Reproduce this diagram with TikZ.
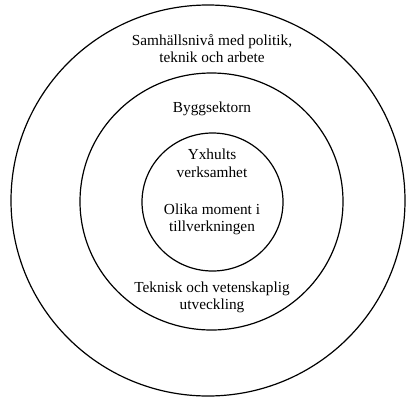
\documentclass[tikz,border=0pt]{standalone}
\usepackage{fontspec}
\setmainfont{Liberation Serif}
\begin{document}
\begin{tikzpicture}[x=1pt,y=-1pt,
  ring/.style={line width=1.2pt},
  lbl/.style={align=center,font=\fontsize{15.3}{17.5}\selectfont,inner sep=0pt}]
\useasboundingbox (0,0) rectangle (406,399);
\draw[ring] (208,200.5) ellipse [x radius=197, y radius=195.5];
\draw[ring] (211.5,201.5) ellipse [x radius=131.5, y radius=128.5];
\draw[ring] (212.5,202) ellipse [x radius=70.5, y radius=69];
\node[lbl] (outer) at (212,48.5) {Samhällsnivå med politik,\\teknik och arbete};
\node[lbl] (middle) at (212,108.5) {Byggsektorn};
\node[lbl] (yx) at (212,163.5) {Yxhults\\verksamhet};
\node[lbl] (olika) at (212,219.5) {Olika moment i\\tillverkningen};
\node[lbl] (tek) at (212,297.5) {Teknisk och vetenskaplig\\utveckling};
\end{tikzpicture}
\end{document}
